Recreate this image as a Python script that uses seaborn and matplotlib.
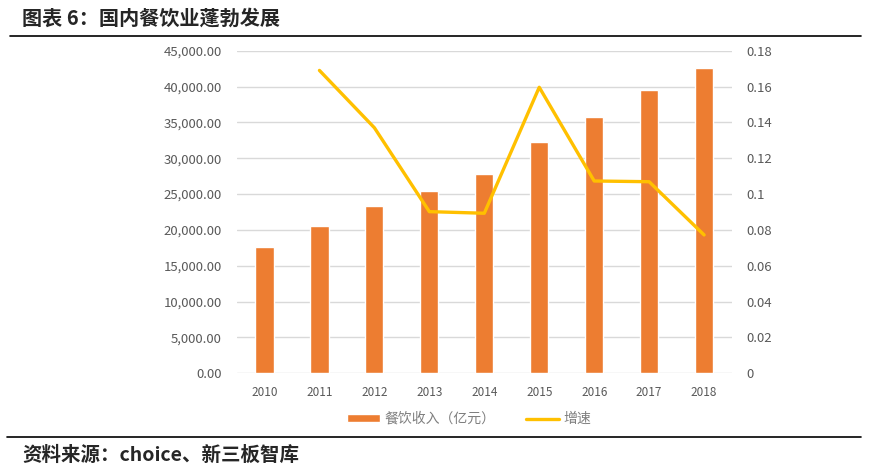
import numpy as np
import pandas as pd
import seaborn as sns
import matplotlib.pyplot as plt
from matplotlib.lines import Line2D
from matplotlib.ticker import FuncFormatter, MultipleLocator

years = ['2010', '2011', '2012', '2013', '2014', '2015', '2016', '2017', '2018']
revenue = [17600, 20550, 23300, 25450, 27800, 32260, 35700, 39500, 42600]
growth = [np.nan, 0.169, 0.137, 0.0902, 0.0893, 0.1596, 0.1073, 0.1069, 0.0772]

df = pd.DataFrame({'year': years, 'revenue': revenue, 'growth': growth})
df['pos'] = np.arange(len(df))

sns.set_style('white')
plt.rcParams['font.family'] = ['Noto Sans CJK SC', 'DejaVu Sans']

bar_color = '#ED7D31'
line_color = '#FFC000'
tick_color = '#595959'

fig = plt.figure(figsize=(8.73, 4.73), dpi=100)
ax = fig.add_axes([0.2715, 0.2108, 0.5665, 0.682])

sns.barplot(data=df, x='year', y='revenue', color=bar_color, width=0.33,
            saturation=1, ax=ax, label='餐饮收入（亿元）')
if ax.get_legend() is not None:
    ax.get_legend().remove()
ax.set_ylim(0, 45000)
ax.yaxis.set_major_locator(MultipleLocator(5000))
ax.yaxis.set_major_formatter(FuncFormatter(lambda v, p: f'{v:,.2f}'))
ax.yaxis.grid(True, color='#d9d9d9', linewidth=1)
ax.set_axisbelow(True)
ax.set_xlabel('')
ax.set_ylabel('')
ax.tick_params(axis='y', length=0, pad=11, labelsize=9.5, labelcolor=tick_color)
ax.tick_params(axis='x', length=0, pad=9, labelsize=8.5, labelcolor=tick_color)

ax2 = ax.twinx()
sns.lineplot(data=df, x='pos', y='growth', color=line_color, linewidth=2.4,
             ax=ax2, label='增速')
ax2.get_legend().remove()
ax2.set_ylim(0, 0.18)
ax2.yaxis.set_major_locator(MultipleLocator(0.02))
ax2.yaxis.set_major_formatter(FuncFormatter(lambda v, p: f'{round(v, 2):g}'))
ax2.set_ylabel('')
ax2.tick_params(axis='y', length=0, pad=11, labelsize=9.5, labelcolor=tick_color)
ax.set_xlim(-0.5, len(years) - 0.5)

for a in (ax, ax2):
    for s in a.spines.values():
        s.set_visible(False)

h1, l1 = ax.get_legend_handles_labels()
h2, l2 = ax2.get_legend_handles_labels()
fig.legend(h1 + h2, l1 + l2, loc='center', bbox_to_anchor=(0.537, 0.114),
           ncol=2, frameon=False, fontsize=10, labelcolor='#7f7f7f',
           handlelength=2.4, handleheight=0.5, columnspacing=2.2, handletextpad=0.3)

fig.text(22 / 873, 1 - 18 / 473, '图表 6：国内餐饮业蓬勃发展', fontsize=14.5,
         fontweight='bold', va='center', ha='left')
fig.add_artist(Line2D([10 / 873, 861 / 873], [1 - 36 / 473] * 2, color='black', lw=1.2))
fig.add_artist(Line2D([7 / 873, 861 / 873], [1 - 437 / 473] * 2, color='black', lw=1.2))
fig.text(22 / 873, 1 - 455 / 473, '资料来源：choice、新三板智库', fontsize=14,
         fontweight='bold', va='center', ha='left')

plt.savefig('out.png', dpi=100)
plt.close()
